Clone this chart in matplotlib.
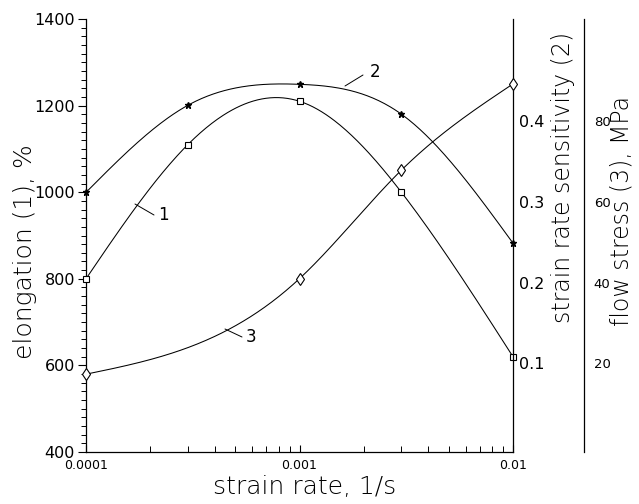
import numpy as np
import matplotlib
matplotlib.use('Agg')
import matplotlib.pyplot as plt
from matplotlib.ticker import MultipleLocator, LogLocator, NullFormatter

# ---- data ----
strain_rate_1 = [1e-4, 3e-4, 1e-3, 3e-3, 1e-2]
elongation = [800, 1110, 1210, 1000, 620]

strain_rate_2 = [1e-4, 3e-4, 1e-3, 3e-3, 1e-2]
sensitivity = [0.312, 0.420, 0.446, 0.409, 0.249]

strain_rate_3 = [1e-4, 1e-3, 3e-3, 1e-2]
flow_stress = [17.3, 41.0, 67.9, 89.3]

x_ticks = [1e-4, 1e-3, 1e-2]
x_tick_labels = ['0.0001', '0.001', '0.01']
sens_ticks = [0.1, 0.2, 0.3, 0.4]
sens_tick_labels = ['0.1', '0.2', '0.3', '0.4']
flow_ticks = [20, 40, 60, 80]
flow_tick_labels = ['20', '40', '60', '80']

plt.rcParams['font.family'] = ['DejaVu Sans']


def natural_spline(xk, yk, xs):
    """Smooth curve through the data points (natural cubic spline)."""
    xk = np.asarray(xk, float); yk = np.asarray(yk, float)
    n = len(xk)
    h = np.diff(xk)
    A = np.zeros((n, n)); b = np.zeros(n)
    A[0, 0] = 1; A[-1, -1] = 1
    for i in range(1, n - 1):
        A[i, i - 1] = h[i - 1]
        A[i, i] = 2 * (h[i - 1] + h[i])
        A[i, i + 1] = h[i]
        b[i] = 6 * ((yk[i + 1] - yk[i]) / h[i] - (yk[i] - yk[i - 1]) / h[i - 1])
    M = np.linalg.solve(A, b)
    out = np.empty_like(xs)
    for j, x in enumerate(xs):
        i = min(max(np.searchsorted(xk, x) - 1, 0), n - 2)
        t0 = xk[i + 1] - x; t1 = x - xk[i]
        out[j] = (M[i] * t0**3 + M[i + 1] * t1**3) / (6 * h[i]) \
            + (yk[i] / h[i] - M[i] * h[i] / 6) * t0 \
            + (yk[i + 1] / h[i] - M[i + 1] * h[i] / 6) * t1
    return out


def smooth(xd, yd):
    lx = np.log10(xd)
    xs = np.linspace(lx[0], lx[-1], 300)
    return 10 ** xs, natural_spline(lx, yd, xs)


W, H = 639, 504
fig = plt.figure(figsize=(W / 100, H / 100), dpi=100)
L, R, T, B = 86, 513, 19, 452
ax = fig.add_axes([L / W, 1 - B / H, (R - L) / W, (B - T) / H])
ax2 = ax.twinx()
ax3 = ax.twinx()

lw = 0.75
# curve 1: elongation
xs, ys = smooth(strain_rate_1, elongation)
ax.plot(xs, ys, color='black', lw=lw)
ax.plot(strain_rate_1, elongation, ls='none', marker='s', ms=5, mfc='white',
        mec='black', mew=0.8, clip_on=False, zorder=5)
# curve 2: strain rate sensitivity
xs, ys = smooth(strain_rate_2, sensitivity)
ax2.plot(xs, ys, color='black', lw=lw)
ax2.plot(strain_rate_2, sensitivity, ls='none', marker='*', ms=4.5, color='black',
         clip_on=False, zorder=5)
# curve 3: flow stress
xs, ys = smooth(strain_rate_3, flow_stress)
ax3.plot(xs, ys, color='black', lw=lw)
ax3.plot(strain_rate_3, flow_stress, ls='none', marker='d', ms=6.5, mfc='white',
         mec='black', mew=0.8, clip_on=False, zorder=5)

# axes limits
ax.set_xscale('log')
ax.set_xlim(1e-4, 1e-2)
ax.set_ylim(400, 1400)
ax2.set_ylim(-0.01, 0.527)
ax3.set_ylim(-2, 105.4)

# spines
for s in ['top', 'right']:
    ax.spines[s].set_visible(False)
for s in ['top', 'left', 'bottom']:
    ax2.spines[s].set_visible(False)
    ax3.spines[s].set_visible(False)
ax3.spines['right'].set_position(('axes', (584 - L) / (R - L)))
for a in (ax, ax2, ax3):
    for s in a.spines.values():
        s.set_linewidth(0.9)

# left axis ticks
ax.yaxis.set_major_locator(MultipleLocator(200))
ax.yaxis.set_minor_locator(MultipleLocator(20))
ax.tick_params(axis='y', which='major', direction='out', length=6, width=0.8,
               labelsize=11.5, pad=2)
ax.tick_params(axis='y', which='minor', direction='out', length=3.5, width=0.7)

# x ticks
ax.set_xticks(x_ticks, labels=x_tick_labels)
ax.xaxis.set_minor_locator(LogLocator(base=10, subs=np.arange(2, 10)))
ax.xaxis.set_minor_formatter(NullFormatter())
ax.tick_params(axis='x', which='major', direction='in', length=5, width=0.8,
               labelsize=9, pad=5)
ax.tick_params(axis='x', which='minor', direction='in', length=4, width=0.7)

# right axes ticks (labels only)
ax2.set_yticks(sens_ticks, labels=sens_tick_labels)
ax2.tick_params(axis='y', length=0, labelsize=11.5, pad=4)
ax3.set_yticks(flow_ticks, labels=flow_tick_labels)
ax3.tick_params(axis='y', length=0, labelsize=9.5, pad=7)

# axis labels
lab = dict(fontsize=18, va='center', fontweight='light')
ax.set_xlabel('strain rate, 1/s', **lab)
ax.xaxis.set_label_coords((305 - L) / (R - L), (B - 487) / (B - T))
ax.set_ylabel('elongation (1), %', **lab)
ax.yaxis.set_label_coords((25 - L) / (R - L), (B - 252) / (B - T))
lab2 = dict(fontsize=17, va='center', fontweight='light', rotation=90)
ax2.set_ylabel('strain rate sensitivity (2)', **lab2)
ax2.yaxis.set_label_coords((563 - L) / (R - L), (B - 177) / (B - T))
ax3.set_ylabel('flow stress (3), MPa', **lab2)
ax3.yaxis.set_label_coords((621 - L) / (R - L), (B - 211) / (B - T))

# curve number annotations
def fr(px, py):
    return ((px - L) / (R - L), (B - py) / (B - T))

for label, p0, p1, pt in [('1', (135, 204), (154, 215), (163, 215)),
                          ('2', (345, 86), (363, 75), (375, 72)),
                          ('3', (225, 329), (242, 337), (251, 337))]:
    ax.annotate('', xy=fr(*p0), xytext=fr(*p1), xycoords='axes fraction',
                textcoords='axes fraction',
                arrowprops=dict(arrowstyle='-', lw=0.7, color='black',
                                shrinkA=0, shrinkB=0))
    ax.text(*fr(*pt), label, transform=ax.transAxes, fontsize=12,
            ha='center', va='center')

fig.savefig('out.png', dpi=100)
